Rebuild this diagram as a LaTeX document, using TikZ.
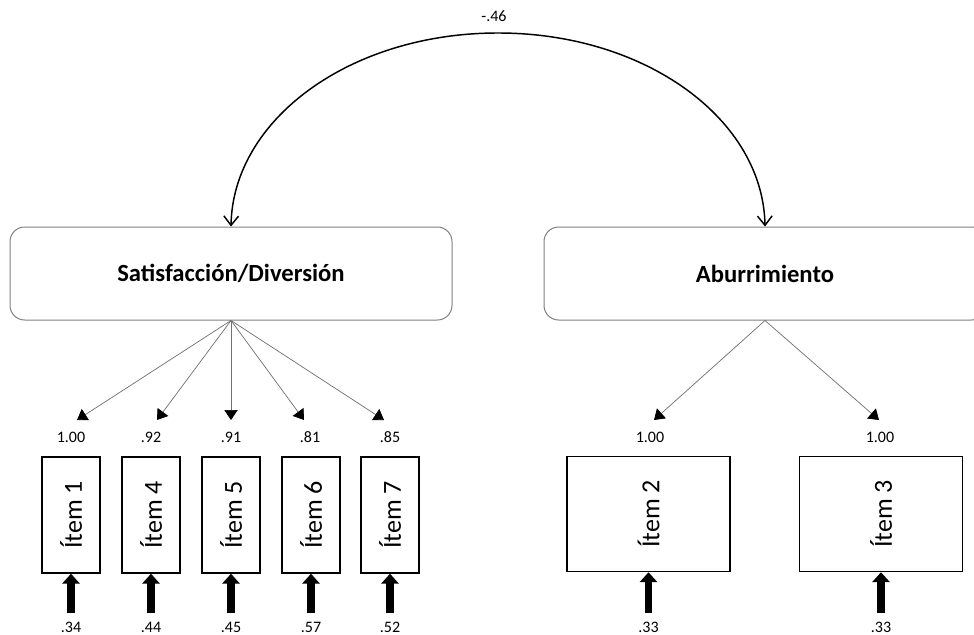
\documentclass[tikz,border=0pt]{standalone}
\usepackage{fontspec}
\setmainfont{Carlito}
\usetikzlibrary{arrows.meta,calc}

\begin{document}
\begin{tikzpicture}[x=0.75pt,y=-0.75pt,
  latent/.style={draw=black!50, line width=0.75pt, rounded corners=11pt,
    minimum width=331.5pt, minimum height=69.75pt, inner sep=0pt,
    font=\fontsize{18.5}{20}\selectfont\bfseries},
  narrowitem/.style={draw=black, line width=1.1pt, minimum width=43.5pt,
    minimum height=87pt, inner sep=0pt, font=\fontsize{19.5}{21}\selectfont},
  wideitem/.style={narrowitem, minimum width=122.25pt, minimum height=86.25pt},
  coef/.style={font=\fontsize{12}{14}\selectfont, inner sep=0pt},
  loading/.style={draw=black!55, line width=0.55pt,
    -{Triangle[length=7.5pt 0 0,width=10pt 0 0,color=black]}},
  errarrow/.style={line width=5.8pt,
    -{Triangle[length=7.5pt 0 0,width=13pt 0 0]}},
  covarrow/.style={line width=1.1pt,
    {Straight Barb[length=7pt 0 0,width=11pt 0 0]}-{Straight Barb[length=7pt 0 0,width=11pt 0 0]}}
]
\useasboundingbox (0,0) rectangle (974,635);

% latent factors
\node[latent] (sat) at (231,273.5) {Satisfacción/Diversión};
\node[latent] (abu) at (765,273.5) {Aburrimiento};

% covariance between the factors
\coordinate (top) at (498,33);
\draw[covarrow] (sat.north) .. controls +(2,-107) and +(-148,0) .. (top)
  .. controls +(148,0) and +(-2,-107) .. (abu.north);
\node[coef] (cov) at (494,16) {-.46};

% observed items
\node[narrowitem] (i1) at (71,515) {\rotatebox{90}{Ítem 1}};
\node[narrowitem] (i4) at (151,515) {\rotatebox{90}{Ítem 4}};
\node[narrowitem] (i5) at (231,515) {\rotatebox{90}{Ítem 5}};
\node[narrowitem] (i6) at (311,515) {\rotatebox{90}{Ítem 6}};
\node[narrowitem] (i7) at (390,515) {\rotatebox{90}{Ítem 7}};
\node[wideitem] (i2) at (648.5,514) {\rotatebox{90}{Ítem 2}};
\node[wideitem] (i3) at (881,514) {\rotatebox{90}{Ítem 3}};

% loading arrow ends
\coordinate (l1) at (77,420);
\coordinate (l4) at (157,420);
\coordinate (l5) at (231,420);
\coordinate (l6) at (304,420);
\coordinate (l7) at (384,420);
\coordinate (l2) at (654,420);
\coordinate (l3) at (879,420);

\foreach \t in {l1,l4,l5,l6,l7} \draw[loading] (sat.south) -- (\t);
\foreach \t in {l2,l3} \draw[loading] (abu.south) -- (\t);

% standardized loadings
\node[coef] (c1) at (71,437) {1.00};
\node[coef] (c4) at (151,437) {.92};
\node[coef] (c5) at (231,437) {.91};
\node[coef] (c6) at (310,437) {.81};
\node[coef] (c7) at (390,437) {.85};
\node[coef] (c2) at (650,437) {1.00};
\node[coef] (c3) at (880,437) {1.00};

% error terms
\foreach \i/\x/\v in {i1/71/.34, i4/151/.44, i5/231/.45, i6/311/.57, i7/390/.52, i2/648.5/.33, i3/881/.33}{
  \coordinate (e\i) at (\x,613);
  \draw[errarrow] (e\i) -- (\i.south);
  \node[coef] (r\i) at (\x,627) {\v};
}
\end{tikzpicture}
\end{document}
